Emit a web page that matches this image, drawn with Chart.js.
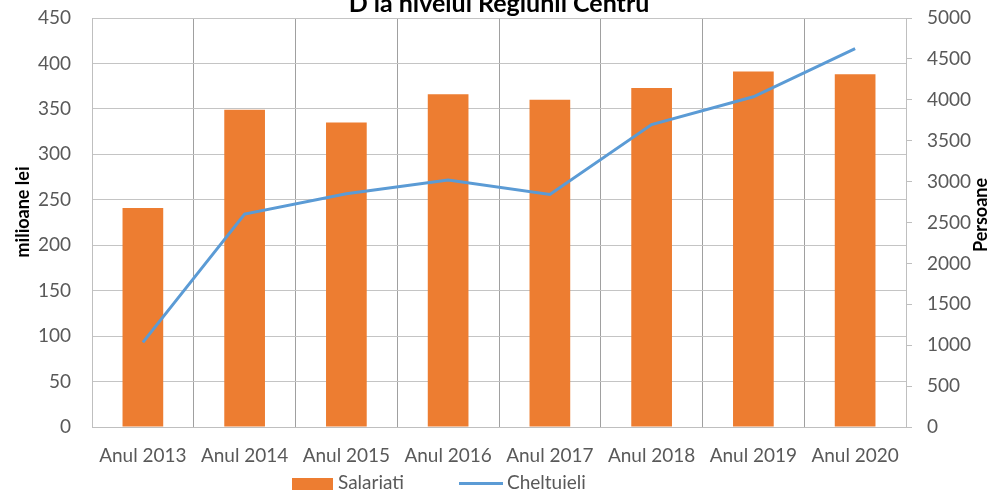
<!DOCTYPE html>
<html>
<head>
<meta charset="utf-8">
<script src="https://cdn.jsdelivr.net/npm/chart.js@4.4.1/dist/chart.umd.min.js"></script>
<style>
  html,body{margin:0;padding:0;background:#fff;}
  #wrap{position:relative;width:994px;height:492px;overflow:hidden;}
  #legend{position:absolute;left:0;top:474px;width:994px;height:18px;font:19px Lato,sans-serif;color:#595959;}
  #legend .sw{position:absolute;}
  #legend .lb{position:absolute;top:-3px;line-height:22px;}
</style>
</head>
<body>
<div id="wrap">
  <canvas id="c" width="994" height="492"></canvas>
  <div id="legend">
    <span class="sw" style="left:292px;top:4px;width:41px;height:12px;background:#ED7D31"></span>
    <span class="lb" style="left:338px">Salariati</span>
    <span class="sw" style="left:459px;top:8px;width:44px;height:3px;background:#5B9BD5"></span>
    <span class="lb" style="left:507px">Cheltuieli</span>
  </div>
</div>
<script>
const years = ['Anul 2013','Anul 2014','Anul 2015','Anul 2016','Anul 2017','Anul 2018','Anul 2019','Anul 2020'];
const salariati = [241, 349, 335, 366, 360, 373, 391, 388];
const cheltuieli = [1034, 2603, 2851, 3019, 2843, 3697, 4037, 4625];
const leftTicks = [0, 450, 50];
const rightTicks = [0, 5000, 500];

const TICK_FONT = {family:'Lato', size:19};
const GREY = '#595959';

// titlul (taiat sus) + titlurile axelor, citite de jos in sus
const extraText = {
  id:'extraText',
  afterDraw(chart){
    const ctx = chart.ctx;
    ctx.save();
    ctx.fillStyle = '#000';
    ctx.font = 'bold 25px Lato';
    ctx.textAlign = 'center';
    ctx.textBaseline = 'alphabetic';
    ctx.fillText('D la nivelul Regiunii Centru', 499, 12);
    ctx.font = 'bold 18px Lato';
    ctx.textBaseline = 'middle';
    [['milioane lei', 23, 212], ['Persoane', 981, 215]].forEach(([t, x, y]) => {
      ctx.save();
      ctx.translate(x, y);
      ctx.rotate(-Math.PI/2);
      ctx.fillText(t, 0, 0);
      ctx.restore();
    });
    ctx.restore();
  }
};

// ticks.padding ar impinge zona graficului in jos, asa ca anulam
function fixVert(width){
  return s => { s.width = width; s.paddingTop = 6; s.paddingBottom = 6; };
}

new Chart(document.getElementById('c'), {
  data:{
    labels: years,
    datasets:[
      {type:'line', label:'Cheltuieli', data:cheltuieli, yAxisID:'y1', borderColor:'#5B9BD5', backgroundColor:'#5B9BD5',
        borderWidth:3, pointRadius:0, tension:0, order:0},
      {type:'bar', label:'Salariati', data:salariati, yAxisID:'y', backgroundColor:'#ED7D31',
        barPercentage:1, categoryPercentage:0.4, order:1}
    ]
  },
  options:{
    responsive:false,
    animation:false,
    layout:{padding:{top:18, left:0, right:0, bottom:0}},
    plugins:{legend:{display:false}, tooltip:{enabled:false}, title:{display:false}},
    scales:{
      x:{
        offset:true,
        grid:{color:'#a0a0a0', drawTicks:false, offset:true},
        border:{color:'#bfbfbf'},
        ticks:{font:TICK_FONT, color:GREY, padding:17, maxRotation:0, autoSkip:false},
        afterFit(s){ s.height = 65; }
      },
      y:{
        position:'left', min:leftTicks[0], max:leftTicks[1],
        ticks:{stepSize:leftTicks[2], font:TICK_FONT, color:GREY, padding:21},
        grid:{color:'#c4c4c4', drawTicks:false},
        border:{color:'#bfbfbf'},
        afterFit: fixVert(92)
      },
      y1:{
        position:'right', min:rightTicks[0], max:rightTicks[1],
        ticks:{stepSize:rightTicks[2], font:TICK_FONT, color:GREY, padding:15, callback:v => String(v)},
        grid:{drawOnChartArea:false, drawTicks:true, tickLength:6, color:'#bfbfbf'},
        border:{color:'#bfbfbf'},
        afterFit: fixVert(88)
      }
    }
  },
  plugins:[extraText]
});
</script>
</body>
</html>
